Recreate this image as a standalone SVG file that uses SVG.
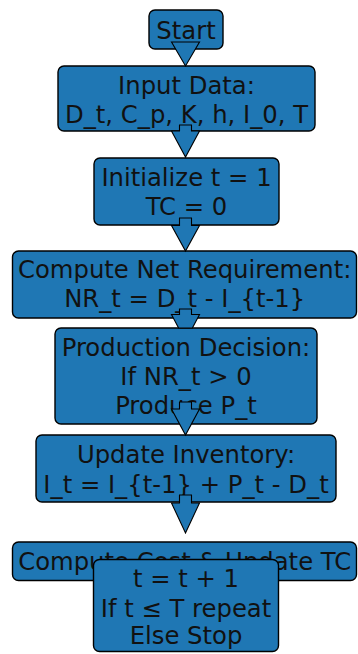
<svg xmlns="http://www.w3.org/2000/svg" width="358" height="654" viewBox="0 0 358 654">
  <style>
    .box { fill: #1f77b4; stroke: #000; stroke-width: 1.4; }
    .lbl { font-family: "DejaVu Sans", "Liberation Sans", sans-serif; font-size: 24.3px; fill: #111; text-anchor: middle; }
    .arrow { fill: #1f77b4; stroke: #000; stroke-width: 1.1; stroke-linejoin: miter; }
  </style>
  <rect width="358" height="654" fill="#fff"/>

  <g id="start">
    <rect class="box" x="149" y="10" width="74" height="39" rx="6"/>
    <text class="lbl" x="186" y="38.5">Start</text>
  </g>
  <g id="input-data">
    <rect class="box" x="58" y="66" width="257" height="65" rx="6"/>
    <text class="lbl" x="186.5" y="93.5">Input Data:</text>
    <text class="lbl" x="186.5" y="122.5">D_t, C_p, K, h, I_0, T</text>
  </g>
  <g id="initialize">
    <rect class="box" x="94" y="158" width="185" height="67" rx="6"/>
    <text class="lbl" x="186.5" y="186">Initialize t = 1</text>
    <text class="lbl" x="186.5" y="214.5">TC = 0</text>
  </g>
  <g id="net-requirement">
    <rect class="box" x="12.5" y="251" width="344" height="67" rx="6"/>
    <text class="lbl" x="184.7" y="278">Compute Net Requirement:</text>
    <text class="lbl" x="184.7" y="307">NR_t = D_t - I_{t-1}</text>
  </g>
  <g id="production">
    <rect class="box" x="55" y="328" width="262" height="96" rx="6"/>
    <text class="lbl" x="186" y="355.5">Production Decision:</text>
    <text class="lbl" x="186" y="385">If NR_t &gt; 0</text>
    <text class="lbl" x="186" y="414">Produce P_t</text>
  </g>
  <g id="update-inventory">
    <rect class="box" x="36" y="435" width="300" height="67" rx="6"/>
    <text class="lbl" x="186" y="463">Update Inventory:</text>
    <text class="lbl" x="186" y="492.5">I_t = I_{t-1} + P_t - D_t</text>
  </g>
  <g id="compute-cost">
    <rect class="box" x="12.5" y="542" width="344" height="38.5" rx="6"/>
    <text class="lbl" x="184.7" y="569.5">Compute Cost &amp; Update TC</text>
  </g>
  <g id="next-period">
    <rect class="box" x="93.5" y="559.5" width="185" height="92" rx="6"/>
    <text class="lbl" x="186" y="587">t = t + 1</text>
    <text class="lbl" x="186" y="616.5">If t ≤ T repeat</text>
    <text class="lbl" x="186" y="644">Else Stop</text>
  </g>

  <g id="connectors">
    <!-- start -> input data -->
    <polygon class="arrow" points="171.5,42 185.5,66 199.5,42"/>
    <!-- input data -> initialize -->
    <polygon class="arrow" points="179.5,125 179.5,131 171.5,131 185.5,157 199.5,131 191.5,131 191.5,125"/>
    <!-- initialize -> net requirement -->
    <polygon class="arrow" points="179.5,218 179.5,225.5 171.5,225.5 185.5,251 199.5,225.5 191.5,225.5 191.5,218"/>
    <!-- net requirement -> production (head runs under the next box) -->
    <polygon class="arrow" points="179.5,309 179.5,314.5 171.5,314.5 178.6,328 192.4,328 199.5,314.5 191.5,314.5 191.5,309"/>
    <!-- production -> update inventory -->
    <polygon class="arrow" points="179.5,402 179.5,409 171.5,409 185.5,435 199.5,409 191.5,409 191.5,402"/>
    <!-- update inventory -> compute cost -->
    <polygon class="arrow" points="179.5,495 179.5,503 171.5,503 185.5,533 199.5,503 191.5,503 191.5,495"/>
  </g>
</svg>
